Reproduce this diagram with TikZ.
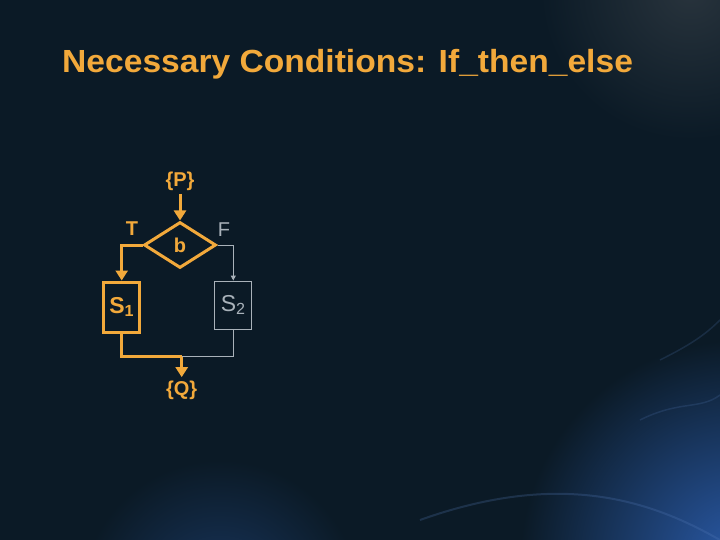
\documentclass[tikz,border=0pt]{standalone}
\usepackage{fontspec}
\setmainfont{Liberation Sans}
\usetikzlibrary{arrows.meta, shapes.geometric}

\definecolor{slidebg}{HTML}{0B1A26}
\definecolor{glowblue}{HTML}{2A5AA8}
\definecolor{flowor}{HTML}{F2A93B}
\definecolor{flowgr}{HTML}{A9B2BA}

\tikzset{
  taken/.style={draw=flowor, line width=3pt},
  nottaken/.style={draw=flowgr, line width=0.9pt},
  cond/.style={diamond, minimum width=72pt, minimum height=46pt, inner sep=0pt},
  stmt/.style={rectangle, inner sep=0pt},
  lbl/.style={text=flowor, font=\bfseries\fontsize{20}{22}\selectfont},
  bighead/.style={-{Triangle[width=12pt,length=10pt]}},
}

\begin{document}
\begin{tikzpicture}[x=1pt,y=-1pt]
% background
\fill[slidebg] (0,0) rectangle (720,540);
\begin{scope}
\clip (0,0) rectangle (720,540);
\shade[inner color=glowblue, outer color=slidebg] (740,560) circle (220);
\shade[inner color=glowblue!45!slidebg, outer color=slidebg] (220,600) circle (140);
\shade[inner color=gray!25!slidebg, outer color=slidebg] (690,-10) circle (150);
\draw[glowblue!80!white, opacity=0.25, line width=2pt] (420,520) .. controls (560,470) and (650,500) .. (720,540);
\draw[glowblue!80!white, opacity=0.2, line width=1.5pt] (640,420) .. controls (680,400) and (700,410) .. (720,395);
\draw[glowblue!80!white, opacity=0.2, line width=1.5pt] (660,360) .. controls (690,345) and (705,335) .. (720,320);
\end{scope}

\node[text=flowor, font=\bfseries\fontsize{32}{36}\selectfont, anchor=base west, inner sep=0pt, xscale=1.05] (title) at (62,73) {Necessary Conditions: If\_then\_else};

\node[lbl] (pre) at (180,181) {\{P\}};
\node[cond, taken, lbl] (b) at (180,245) {b};
\node[lbl] (t) at (132,229) {T};
\node[text=flowgr, font=\fontsize{20}{22}\selectfont] (f) at (224,230) {F};
\node[stmt, taken, minimum width=36pt, minimum height=50pt, text=flowor, font=\bfseries\fontsize{23}{25}\selectfont] (s1) at (121.7,307) {S\textsubscript{1}};
\node[stmt, nottaken, minimum width=37pt, minimum height=48pt, text=flowgr, font=\fontsize{23}{25}\selectfont] (s2) at (233.3,305) {S\textsubscript{2}};
\coordinate (join) at (181.7,356.7);
\node[lbl] (post) at (181.7,390) {\{Q\}};

\draw[taken, bighead] (pre) -- (b.north);
\draw[taken, bighead] (b.west) -| (s1.north);
\draw[nottaken, -{Triangle[width=5pt,length=5pt]}] (b.east) -| (s2.north);
\draw[nottaken] (s2.south) |- (join);
\draw[taken] (s1.south) |- (join);
\draw[taken, bighead] (join) -- (post);
\end{tikzpicture}
\end{document}
